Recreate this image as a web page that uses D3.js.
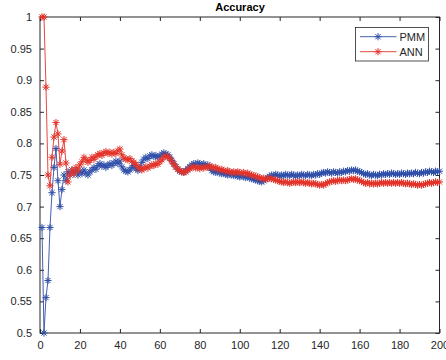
<!DOCTYPE html>
<html>
<head>
<meta charset="utf-8">
<script src="https://cdn.jsdelivr.net/npm/d3@7"></script>
<style>
  body { margin: 0; background: #fff; }
  text { font-family: "Liberation Sans", Arial, Helvetica, sans-serif; }
</style>
</head>
<body>
<div id="chart"></div>
<script>
// accuracy per iteration
var pmm = [
  0.667, 0.500, 0.556, 0.583, 0.667, 0.722, 0.762, 0.792, 0.741, 0.700,
  0.727, 0.750, 0.741, 0.755, 0.750, 0.758, 0.752, 0.757, 0.750, 0.756,
  0.752, 0.758, 0.753, 0.750, 0.755, 0.758, 0.762, 0.759, 0.765, 0.768,
  0.764, 0.766, 0.762, 0.765, 0.768, 0.765, 0.769, 0.772, 0.768, 0.772,
  0.763, 0.758, 0.756, 0.755, 0.758, 0.762, 0.765, 0.760, 0.757, 0.762,
  0.770, 0.775, 0.778, 0.776, 0.780, 0.782, 0.779, 0.781, 0.778, 0.780,
  0.783, 0.785, 0.783, 0.782, 0.778, 0.773, 0.768, 0.763, 0.759, 0.756,
  0.755, 0.754, 0.757, 0.760, 0.763, 0.766, 0.768, 0.767, 0.769, 0.768,
  0.766, 0.768, 0.765, 0.766, 0.762, 0.757, 0.755, 0.754, 0.756, 0.753,
  0.752, 0.754, 0.751, 0.750, 0.752, 0.750, 0.749, 0.751, 0.748, 0.747,
  0.749, 0.747, 0.746, 0.748, 0.745, 0.744, 0.743, 0.742, 0.741, 0.740,
  0.739, 0.741, 0.743, 0.746, 0.748, 0.750, 0.749, 0.751, 0.750, 0.748,
  0.750, 0.749, 0.751, 0.750, 0.749, 0.751, 0.750, 0.748, 0.750, 0.749,
  0.751, 0.750, 0.749, 0.751, 0.750, 0.749, 0.751, 0.750, 0.752, 0.751,
  0.753, 0.754, 0.753, 0.755, 0.754, 0.753, 0.755, 0.754, 0.753, 0.755,
  0.754, 0.756, 0.755, 0.757, 0.756, 0.758, 0.757, 0.758, 0.756, 0.755,
  0.754, 0.752, 0.751, 0.752, 0.750, 0.749, 0.751, 0.750, 0.749, 0.751,
  0.750, 0.752, 0.751, 0.752, 0.751, 0.753, 0.752, 0.751, 0.752, 0.751,
  0.753, 0.752, 0.751, 0.753, 0.752, 0.753, 0.752, 0.754, 0.753, 0.752,
  0.754, 0.753, 0.755, 0.754, 0.756, 0.755, 0.754, 0.756, 0.755, 0.756
];
var ann = [
  1.000, 1.000, 0.889, 0.750, 0.733, 0.778, 0.810, 0.833, 0.815, 0.767,
  0.788, 0.806, 0.769, 0.739, 0.750, 0.758, 0.752, 0.762, 0.757, 0.766,
  0.771, 0.778, 0.774, 0.770, 0.773, 0.778, 0.775, 0.779, 0.782, 0.784,
  0.781, 0.785, 0.787, 0.784, 0.786, 0.783, 0.786, 0.784, 0.788, 0.791,
  0.782, 0.777, 0.775, 0.774, 0.776, 0.772, 0.770, 0.767, 0.763, 0.760,
  0.758, 0.760, 0.763, 0.761, 0.764, 0.766, 0.765, 0.768, 0.767, 0.771,
  0.774, 0.778, 0.780, 0.779, 0.776, 0.771, 0.767, 0.763, 0.759, 0.757,
  0.755, 0.754, 0.755, 0.758, 0.760, 0.762, 0.763, 0.761, 0.762, 0.760,
  0.762, 0.761, 0.763, 0.762, 0.764, 0.763, 0.761, 0.762, 0.760, 0.758,
  0.759, 0.757, 0.756, 0.757, 0.755, 0.754, 0.755, 0.754, 0.755, 0.754,
  0.753, 0.754, 0.752, 0.753, 0.751, 0.750, 0.749, 0.748, 0.747, 0.746,
  0.744, 0.745, 0.743, 0.744, 0.745, 0.744, 0.743, 0.742, 0.741, 0.740,
  0.739, 0.738, 0.739, 0.738, 0.737, 0.738, 0.739, 0.738, 0.739, 0.738,
  0.739, 0.738, 0.737, 0.738, 0.737, 0.736, 0.737, 0.736, 0.735, 0.734,
  0.735, 0.734, 0.736, 0.738, 0.739, 0.740, 0.741, 0.740, 0.741, 0.742,
  0.741, 0.742, 0.741, 0.742, 0.743, 0.744, 0.743, 0.744, 0.742, 0.741,
  0.740, 0.738, 0.737, 0.738, 0.736, 0.737, 0.736, 0.737, 0.736, 0.737,
  0.738, 0.737, 0.738, 0.737, 0.738, 0.737, 0.738, 0.737, 0.738, 0.737,
  0.738, 0.737, 0.736, 0.737, 0.736, 0.735, 0.736, 0.735, 0.734, 0.735,
  0.734, 0.735, 0.736, 0.737, 0.738, 0.737, 0.738, 0.739, 0.738, 0.739
];
var seriesNames = ["PMM", "ANN"];
var seriesColors = ["#2f4fa8", "#e2332a"];
var xTicks = [0, 20, 40, 60, 80, 100, 120, 140, 160, 180, 200];
var yTicks = [0.5, 0.55, 0.6, 0.65, 0.7, 0.75, 0.8, 0.85, 0.9, 0.95, 1];

var W = 446, H = 360;
var padL = 40, padR = 439.5, padT = 17, padB = 333;

var svg = d3.select("#chart").append("svg").attr("width", W).attr("height", H);

var x = d3.scaleLinear().domain([0, 200]).range([padL, padR]);
var y = d3.scaleLinear().domain([0.5, 1]).range([padB, padT]);

// box
svg.append("rect")
  .attr("x", padL).attr("y", padT)
  .attr("width", padR - padL).attr("height", padB - padT)
  .attr("fill", "none").attr("stroke", "#262626").attr("stroke-width", 1);

// axes with inward ticks (MATLAB style)
var fmt = function(d) { return String(+d.toFixed(2)); };
function styleAxis(g) {
  g.select(".domain").remove();
  g.selectAll("line").attr("stroke", "#262626");
  g.selectAll("text").attr("font-size", 11).attr("fill", "#262626")
    .attr("font-family", "Liberation Sans, Arial, sans-serif");
}
svg.append("g").attr("transform", "translate(0," + padB + ")")
  .call(d3.axisBottom(x).tickValues(xTicks).tickSize(-4).tickPadding(8).tickFormat(fmt))
  .call(styleAxis);
svg.append("g").attr("transform", "translate(0," + padT + ")")
  .call(d3.axisTop(x).tickValues(xTicks).tickSize(-4).tickFormat(""))
  .call(styleAxis);
svg.append("g").attr("transform", "translate(" + padL + ",0)")
  .call(d3.axisLeft(y).tickValues(yTicks).tickSize(-4).tickPadding(8).tickFormat(fmt))
  .call(styleAxis);
svg.append("g").attr("transform", "translate(" + padR + ",0)")
  .call(d3.axisRight(y).tickValues(yTicks).tickSize(-4).tickFormat(""))
  .call(styleAxis);

// asterisk marker
var r = 3.6, rd = 2.6;
var star = "M" + (-r) + ",0H" + r + "M0," + (-r) + "V" + r +
  "M" + (-rd) + "," + (-rd) + "L" + rd + "," + rd +
  "M" + (-rd) + "," + rd + "L" + rd + "," + (-rd);

var line = d3.line().x(function(d, i) { return x(i + 1); }).y(function(d) { return y(d); });

[pmm, ann].forEach(function(data, k) {
  var g = svg.append("g");
  g.append("path").datum(data).attr("d", line)
    .attr("fill", "none").attr("stroke", seriesColors[k]).attr("stroke-width", 0.9);
  g.selectAll("path.m").data(data).enter().append("path").attr("class", "m")
    .attr("d", star)
    .attr("transform", function(d, i) { return "translate(" + x(i + 1) + "," + y(d) + ")"; })
    .attr("fill", "none").attr("stroke", seriesColors[k]).attr("stroke-width", 1);
});

// title
svg.append("text").attr("x", 240).attr("y", 11).attr("text-anchor", "middle")
  .attr("font-size", 11).attr("font-weight", "bold").attr("fill", "#000").text("Accuracy");

// legend
var lg = svg.append("g");
lg.append("rect").attr("x", 355.5).attr("y", 27.5).attr("width", 73).attr("height", 33.5)
  .attr("fill", "#fff").attr("stroke", "#262626").attr("stroke-width", 0.8);
seriesNames.forEach(function(name, k) {
  var yy = 36.7 + k * 15;
  lg.append("line").attr("x1", 360).attr("x2", 396.5).attr("y1", yy).attr("y2", yy)
    .attr("stroke", seriesColors[k]).attr("stroke-width", 0.9);
  lg.append("path").attr("d", star).attr("transform", "translate(378," + yy + ")")
    .attr("fill", "none").attr("stroke", seriesColors[k]).attr("stroke-width", 1);
  lg.append("text").attr("x", 399.5).attr("y", yy + 4).attr("font-size", 11)
    .attr("fill", "#262626").text(name);
});
</script>
</body>
</html>
